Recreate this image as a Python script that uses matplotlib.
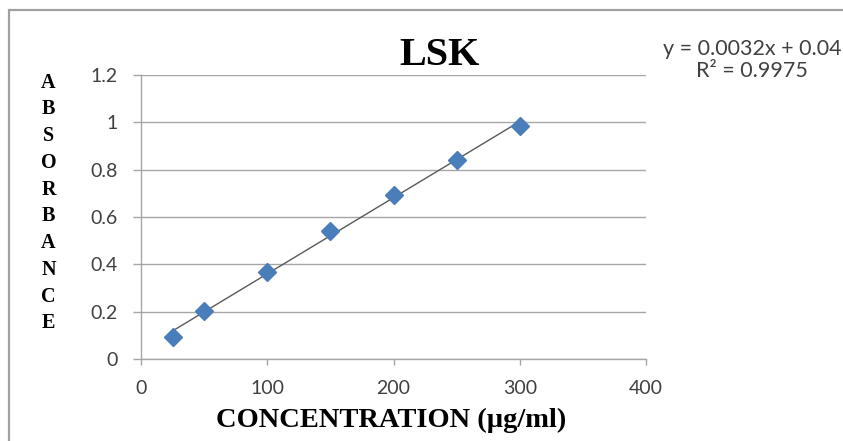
import numpy as np
import matplotlib
matplotlib.use("Agg")
import matplotlib.pyplot as plt
from matplotlib.patches import Rectangle

concentration = [25, 50, 100, 150, 200, 250, 300]
absorbance = [0.094, 0.204, 0.366, 0.542, 0.694, 0.840, 0.986]
x_ticks = [0, 100, 200, 300, 400]
y_ticks = [0, 0.2, 0.4, 0.6, 0.8, 1.0, 1.2]
y_tick_labels = ["0", "0.2", "0.4", "0.6", "0.8", "1", "1.2"]
title = "LSK"
x_label = "CONCENTRATION (µg/ml)"
y_label = "ABSORBANCE"
equation = "y = 0.0032x + 0.04"
r2_text = "R² = 0.9975"

W, H = 843, 441
fig = plt.figure(figsize=(W / 100, H / 100), dpi=100)
fig.patch.set_facecolor("white")

# chart border (left/top visible)
fig.add_artist(Rectangle((9 / W, -0.1), 1.2, 1 - 10 / H + 0.1, transform=fig.transFigure,
                         fill=False, edgecolor="#a0a0a0", linewidth=1.6))

ax = fig.add_axes([141 / W, 1 - 359 / H, (646 - 141) / W, (359 - 75) / H])
ax.set_xlim(0, 400)
ax.set_ylim(0, 1.2)

gridc = "#a6a6a6"
ax.set_yticks(y_ticks)
ax.set_yticklabels(y_tick_labels)
ax.set_xticks(x_ticks)
ax.yaxis.grid(True, color=gridc, linewidth=1.0)
ax.set_axisbelow(True)
for s in ["top", "right"]:
    ax.spines[s].set_visible(False)
for s in ["left", "bottom"]:
    ax.spines[s].set_color(gridc)
    ax.spines[s].set_linewidth(1.0)
ax.tick_params(axis="both", direction="out", color=gridc, width=1.0,
               labelsize=14, labelcolor="#404040")
ax.tick_params(axis="y", length=6, pad=11)
ax.tick_params(axis="x", length=4, pad=11)
for lbl in ax.get_xticklabels() + ax.get_yticklabels():
    lbl.set_family(["Lato", "DejaVu Sans"])

# trend line
coef = np.polyfit(concentration, absorbance, 1)
xs = np.array([min(concentration), max(concentration)])
ax.plot(xs, np.polyval(coef, xs), color="#595959", linewidth=1.0, zorder=2)

ax.plot(concentration, absorbance, linestyle="none", marker="D", markersize=9,
        color="#4a7ebb", markeredgecolor="#4a7ebb", zorder=3, clip_on=False)

serif = ["Liberation Serif", "DejaVu Serif"]
fig.text(440 / W, 1 - 65 / H, title, ha="center", va="baseline", fontsize=29,
         fontweight="bold", family=serif)
fig.text(391 / W, 1 - 427 / H, x_label, ha="center", va="baseline", fontsize=20.5,
         fontweight="bold", family=serif)
fig.text(48.5 / W, 1 - 203 / H, "\n".join(y_label), ha="center", va="center",
         fontsize=14.5, fontweight="bold", family=serif, linespacing=1.45)

fig.text(752 / W, 1 - 49 / H, equation, ha="center", va="center", fontsize=15.5,
         color="#404040", family=["Lato", "DejaVu Sans"])
fig.text(752 / W, 1 - 71 / H, r2_text, ha="center", va="center", fontsize=15.5,
         color="#404040", family=["Lato", "DejaVu Sans"])

fig.savefig("out.png", dpi=100)
